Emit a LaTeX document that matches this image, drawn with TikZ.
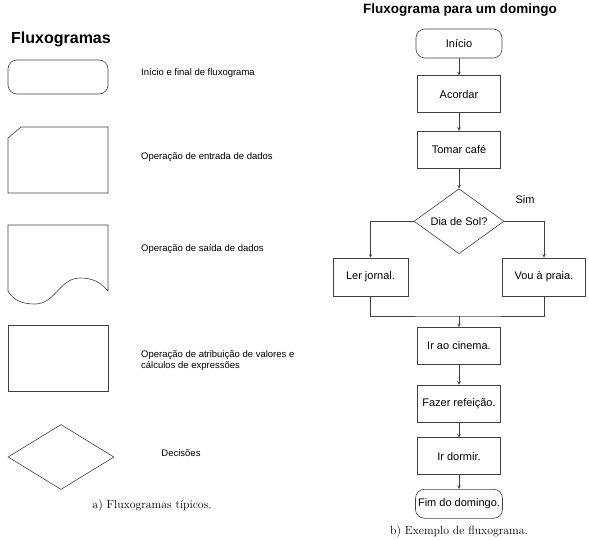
\documentclass[tikz,border=0pt]{standalone}
\usepackage{fontspec}
\setsansfont{Liberation Sans}
\usepackage{tikz}
\usetikzlibrary{shapes.geometric, positioning}
\definecolor{linha}{HTML}{404040}

\begin{document}
\begin{tikzpicture}[x=1pt, y=1pt, >=stealth, node distance=17pt,
  caixa/.style={draw=linha, line width=0.6pt, minimum width=83pt, minimum height=37pt, inner sep=2pt,
    font=\sffamily\fontsize{11}{13}\selectfont},
  terminal/.style={caixa, rounded corners=9pt, minimum width=86pt, minimum height=29pt},
  decisao/.style={caixa, diamond, minimum width=90pt, minimum height=56pt, inner sep=0pt},
  seta/.style={->, draw=linha, line width=0.6pt},
  traco/.style={draw=linha, line width=0.6pt},
  legenda/.style={anchor=west, align=left, inner sep=0pt, font=\sffamily\fontsize{9.5}{11}\selectfont},
  titulo/.style={inner sep=0pt, font=\sffamily\bfseries},
  rotulo/.style={font=\rmfamily\fontsize{11.8}{14}\selectfont}]
\useasboundingbox (0,0) rectangle (589,539);
% Fluxogramas tipicos
\node[titulo, anchor=west, font=\sffamily\bfseries\fontsize{16}{18}\selectfont] (tit1) at (11,500) {Fluxogramas};
\draw[traco, rounded corners=9pt] (8,445) rectangle (108,479);
\draw[traco] (8,346) -- (8,401) -- (21,412) -- (108,412) -- (108,346) -- cycle;
\draw[traco] (8,248) -- (8,314) -- (108,314) -- (108,248)
  to[out=130, in=0] (80,261) to[out=180, in=0] (35,235) to[out=180, in=-60] (8,248);
\node[draw=linha, line width=0.6pt, minimum width=100pt, minimum height=66pt] (proc) at (58,181) {};
\node[draw=linha, line width=0.6pt, diamond, minimum width=106pt, minimum height=65pt, inner sep=0pt] (dec) at (61,82) {};
\node[legenda] (l1) at (141,466) {Início e final de fluxograma};
\node[legenda] (l2) at (141,382) {Operação de entrada de dados};
\node[legenda] (l3) at (141,290) {Operação de saída de dados};
\node[legenda] (l4) at (141,178.5) {Operação de atribuição de valores e\\cálculos de expressões};
\node[legenda, anchor=center] (l5) at (181,86) {Decisões};
\node[rotulo] (capa) at (152,33) {a) Fluxogramas típicos.};
% Exemplo
\node[titulo, font=\sffamily\bfseries\fontsize{13.5}{16}\selectfont] (tit2) at (460,529) {Fluxograma para um domingo};
\node[terminal] (inicio) at (459,495.5) {Início};
\node[caixa, below=of inicio] (acordar) {Acordar};
\node[caixa, below=18pt of acordar] (tomar) {Tomar café};
\node[decisao, below=20pt of tomar] (dia) {Dia de Sol?};
\node[caixa, minimum width=75pt, minimum height=38pt] (ler) at (370.5,262) {Ler jornal.};
\node[caixa, minimum height=38pt] (vou) at (544,262) {Vou à praia.};
\node[font=\sffamily\fontsize{11}{13}\selectfont] (sim) at (525,339) {Sim};
\coordinate (juncao) at (459,223);
\node[caixa] (cinema) at (459,193) {Ir ao cinema.};
\node[caixa, below=20pt of cinema] (refeicao) {Fazer refeição.};
\node[caixa, below=15pt of refeicao] (dormir) {Ir dormir.};
\node[terminal, below=14pt of dormir, minimum width=87pt] (fim) {Fim do domingo.};
\node[rotulo] (capb) at (459,7) {b) Exemplo de fluxograma.};
% Ligacoes
\draw[seta] (inicio) -- (acordar);
\draw[seta] (acordar) -- (tomar);
\draw[seta] (tomar) -- (dia);
\draw[seta] (dia.west) -| (ler);
\draw[seta] (dia.east) -| (vou);
\draw[traco] (ler) |- (juncao) -| (vou);
\draw[seta] (juncao) -- (cinema);
\draw[seta] (cinema) -- (refeicao);
\draw[seta] (refeicao) -- (dormir);
\draw[seta] (dormir) -- (fim);
\end{tikzpicture}
\end{document}
